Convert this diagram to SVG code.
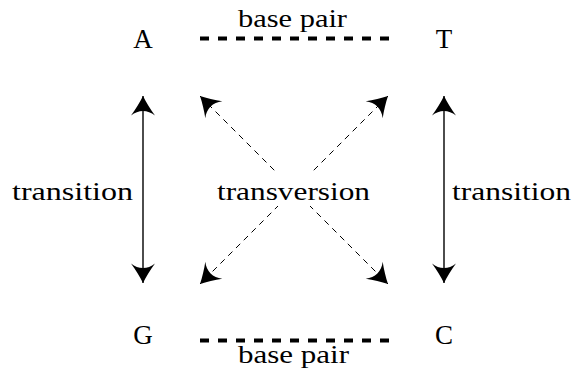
<svg xmlns="http://www.w3.org/2000/svg" width="572" height="376" viewBox="0 0 572 376">
<style>
text{font-family:"Liberation Serif","Times New Roman",serif;font-size:25px;fill:#000}
.node text{font-size:27px}
.pair{stroke:#000;stroke-width:4;stroke-dasharray:9 9;fill:none}
.ts{stroke:#000;stroke-width:1.4;fill:none;marker-start:url(#ah);marker-end:url(#ah)}
.tv{stroke:#000;stroke-width:1;stroke-dasharray:6 5;fill:none;marker-start:url(#ah);marker-end:url(#ah)}
</style>
<defs>
<marker id="ah" markerUnits="userSpaceOnUse" orient="auto-start-reverse" refX="0" refY="0" markerWidth="30" markerHeight="30" viewBox="-15 -10 20 20" overflow="visible">
<path d="M0,0 C-4,-2 -9,-5 -13,-8 C-9,-3 -9,3 -13,8 C-9,5 -4,2 0,0Z" fill="#000"/>
</marker>
</defs>
<g id="connectors">
<line class="pair" x1="200" y1="38.5" x2="389" y2="38.5"/>
<line class="pair" x1="200" y1="340.5" x2="389" y2="340.5"/>
<line class="ts" x1="143" y1="96" x2="143" y2="283"/>
<line class="ts" x1="444" y1="96" x2="444" y2="283"/>
<line class="tv" x1="200" y1="96" x2="388" y2="284"/>
<line class="tv" x1="388" y1="96" x2="200" y2="284"/>
<rect x="214" y="171" width="160" height="35" fill="#fff"/>
<text x="292.5" y="27" text-anchor="middle" textLength="109" lengthAdjust="spacingAndGlyphs">base pair</text>
<text x="293.5" y="363" text-anchor="middle" textLength="111" lengthAdjust="spacingAndGlyphs">base pair</text>
<text x="12" y="200" textLength="121" lengthAdjust="spacingAndGlyphs">transition</text>
<text x="452" y="200" textLength="119" lengthAdjust="spacingAndGlyphs">transition</text>
<text x="217" y="200" textLength="153" lengthAdjust="spacingAndGlyphs">transversion</text>
</g>
<g id="nodeA" class="node"><text x="143" y="48" text-anchor="middle">A</text></g>
<g id="nodeT" class="node"><text x="444" y="48" text-anchor="middle">T</text></g>
<g id="nodeG" class="node"><text x="143" y="344" text-anchor="middle">G</text></g>
<g id="nodeC" class="node"><text x="444" y="344" text-anchor="middle">C</text></g>
</svg>
